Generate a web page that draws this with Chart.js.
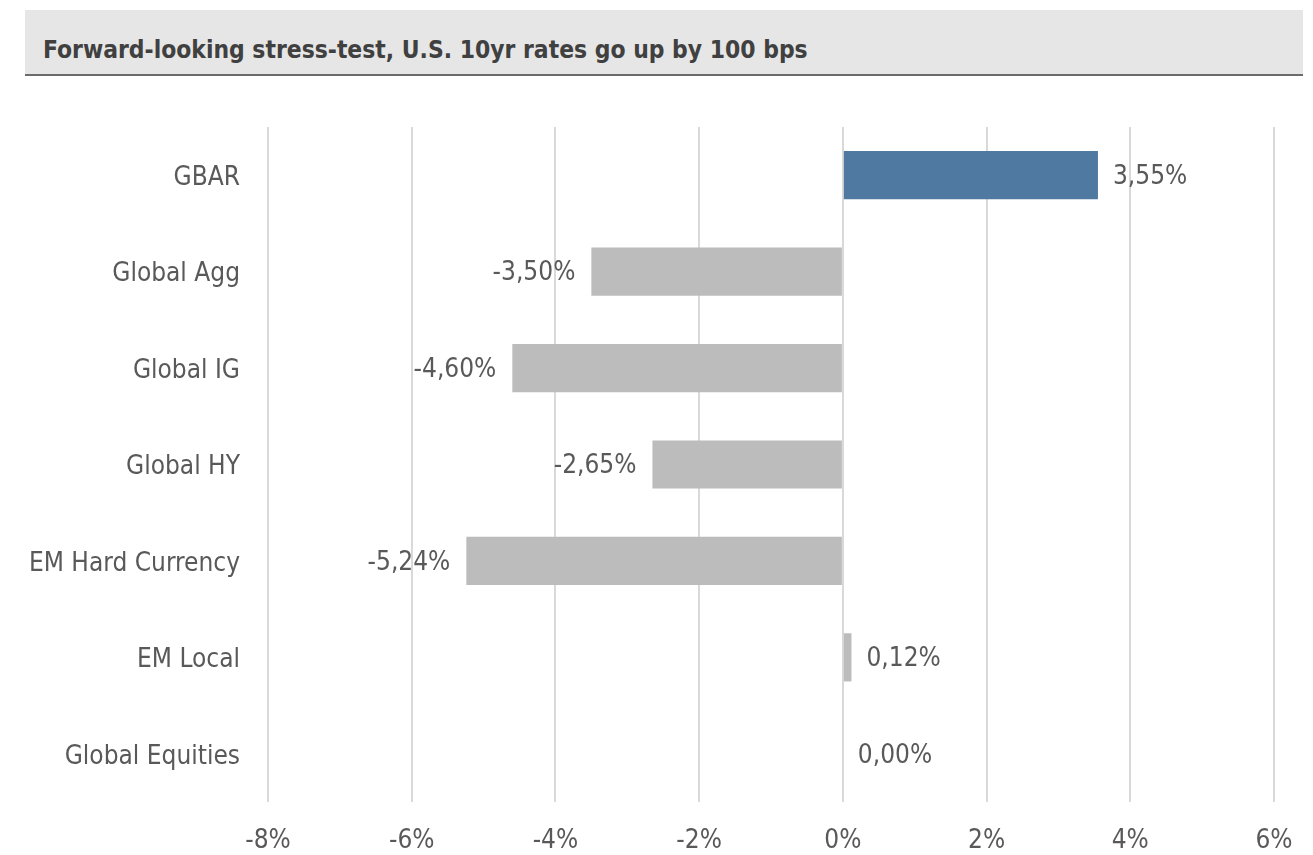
<!DOCTYPE html>
<html>
<head>
<meta charset="utf-8">
<script src="https://cdn.jsdelivr.net/npm/chart.js@4.4.1/dist/chart.umd.min.js"></script>
<style>
  html, body { margin: 0; padding: 0; background: #fff; }
  body { width: 1313px; height: 855px; position: relative; overflow: hidden;
         font-family: "Liberation Sans Narrow", "Arial Narrow", "DejaVu Sans Condensed", sans-serif; }
  #title { position: absolute; left: 25px; top: 10px; width: 1278px; height: 64px;
           background: #e6e6e6; border-bottom: 2px solid #6b6b6b; box-sizing: content-box; }
  #title span { position: absolute; left: 18px; top: 28px; font-weight: bold; font-size: 24.4px;
                color: #404040; line-height: 1; }
  #wrap { position: absolute; left: 0; top: 80px; width: 1313px; height: 775px; }
</style>
</head>
<body>
<div id="title"><span>Forward-looking stress-test, U.S. 10yr rates go up by 100 bps</span></div>
<div id="wrap"><canvas id="chart"></canvas></div>
<script>
const FONT = '"Liberation Sans Narrow", "Arial Narrow", "DejaVu Sans Condensed", sans-serif';

const categories = ["GBAR", "Global Agg", "Global IG", "Global HY", "EM Hard Currency", "EM Local", "Global Equities"];
const values = [3.55, -3.50, -4.60, -2.65, -5.24, 0.12, 0.00];
const barColors = ["#4f79a1", "#bbbcbb", "#bbbcbb", "#bbbcbb", "#bbbcbb", "#bbbcbb", "#bbbcbb"];
const xTicks = [-8, -6, -4, -2, 0, 2, 4, 6];

const fmtPct = (v) => v.toFixed(2).replace(".", ",") + "%";

// value labels next to the bar ends, comma decimals like the source
const barLabels = {
  id: "barLabels",
  afterDatasetsDraw(chart) {
    const { ctx } = chart;
    const meta = chart.getDatasetMeta(0);
    const zero = chart.scales.x.getPixelForValue(0);
    ctx.save();
    ctx.font = `26px ${FONT}`;
    ctx.fillStyle = "#595959";
    ctx.textBaseline = "middle";
    meta.data.forEach((bar, i) => {
      const v = values[i];
      if (v < 0) {
        ctx.textAlign = "right";
        ctx.fillText(fmtPct(v), bar.x - 16, bar.y + 2);
      } else {
        ctx.textAlign = "left";
        ctx.fillText(fmtPct(v), Math.max(bar.x, zero) + 15, bar.y + 2);
      }
    });
    ctx.restore();
  }
};

new Chart(document.getElementById("chart"), {
  type: "bar",
  data: {
    labels: categories,
    datasets: [{
      data: values,
      backgroundColor: barColors,
      borderWidth: 0,
      categoryPercentage: 1,
      barPercentage: 0.5
    }]
  },
  options: {
    indexAxis: "y",
    responsive: true,
    maintainAspectRatio: false,
    animation: false,
    layout: { padding: { top: 47, right: 39, bottom: 0, left: 0 } },
    scales: {
      x: {
        min: -8,
        max: 6,
        afterBuildTicks: (s) => { s.ticks = xTicks.map((v) => ({ value: v })); },
        afterFit: (s) => { s.height = 53; s.paddingLeft = 0; s.paddingRight = 0; },
        grid: { color: "#d9d9d9", lineWidth: 2, drawTicks: false },
        border: { display: false },
        ticks: {
          color: "#595959",
          font: { family: FONT, size: 26 },
          padding: 24,
          callback: (v) => v + "%"
        }
      },
      y: {
        afterFit: (s) => { s.width = 268; },
        grid: { display: false },
        border: { display: false },
        ticks: {
          color: "#595959",
          font: { family: FONT, size: 26 },
          padding: 20,
          labelOffset: 3
        }
      }
    },
    plugins: { legend: { display: false }, tooltip: { enabled: false } }
  },
  plugins: [barLabels]
});
</script>
</body>
</html>
